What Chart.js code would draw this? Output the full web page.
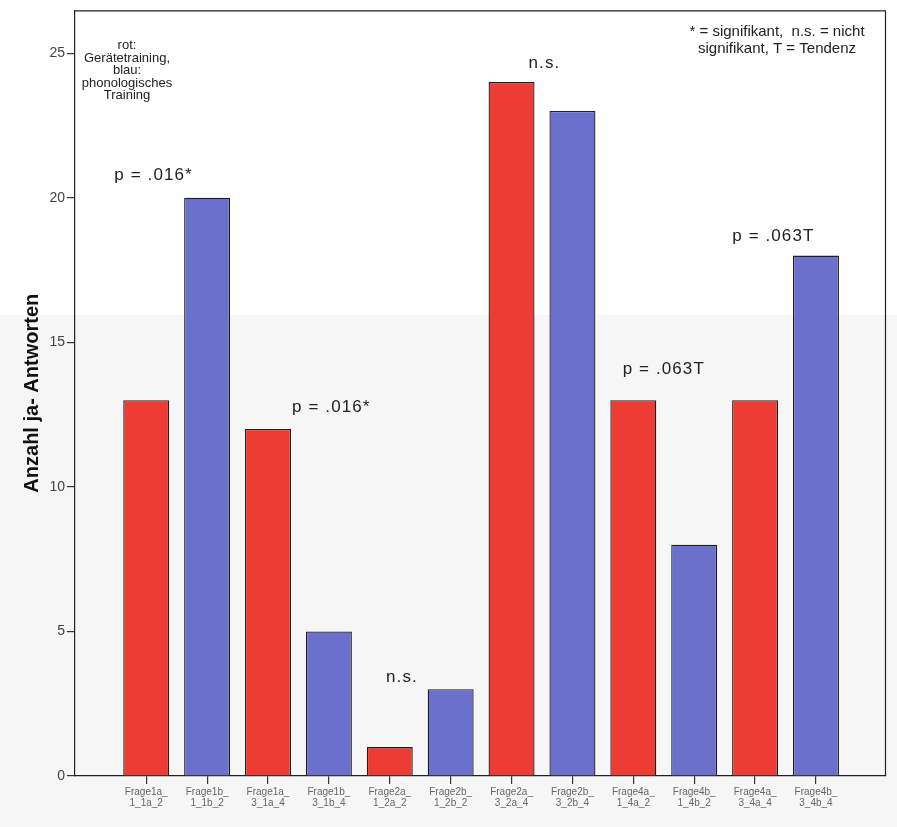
<!DOCTYPE html>
<html>
<head>
<meta charset="utf-8">
<script src="https://cdn.jsdelivr.net/npm/chart.js@4/dist/chart.umd.min.js"></script>
<style>
  html, body { margin: 0; padding: 0; background: #ffffff; }
  canvas { display: block; }
</style>
</head>
<body>
<canvas id="chart" width="897" height="827"></canvas>
<script>
// Question labels along the x axis (two lines each)
const categories = [
  ["Frage1a_", "1_1a_2"], ["Frage1b_", "1_1b_2"],
  ["Frage1a_", "3_1a_4"], ["Frage1b_", "3_1b_4"],
  ["Frage2a_", "1_2a_2"], ["Frage2b_", "1_2b_2"],
  ["Frage2a_", "3_2a_4"], ["Frage2b_", "3_2b_4"],
  ["Frage4a_", "1_4a_2"], ["Frage4b_", "1_4b_2"],
  ["Frage4a_", "3_4a_4"], ["Frage4b_", "3_4b_4"]
];

// Number of "yes" answers per question, alternating red / blue
const geraetetraining = [13, 12, 1, 24, 13, 13];          // rot
const phonologisch    = [20, 5, 3, 23, 8, 18];            // blau
const redIndex  = [0, 2, 4, 6, 8, 10];
const blueIndex = [1, 3, 5, 7, 9, 11];

const yTicks = [0, 5, 10, 15, 20, 25];

// Significance notes above each pair of bars
const noteText = ["p = .016*", "p = .016*", "n.s.", "n.s.", "p = .063T", "p = .063T"];
const noteX    = [0.12, 3.04, 4.2, 6.54, 8.5, 10.3];
const noteY    = [20.6, 12.6, 3.24, 24.5, 13.9, 18.5];

const FONT = "'Liberation Sans', Arial, sans-serif";

const pageBackground = {
  id: 'pageBackground',
  beforeDraw(chart) {
    const ctx = chart.ctx;
    ctx.save();
    ctx.fillStyle = '#ffffff';
    ctx.fillRect(0, 0, chart.width, chart.height);
    ctx.fillStyle = '#f6f6f6';
    ctx.fillRect(0, 315, chart.width, chart.height - 315);
    ctx.restore();
  }
};

const frameAndNotes = {
  id: 'frameAndNotes',
  afterDatasetsDraw(chart) {
    const ctx = chart.ctx;
    const a = chart.chartArea;
    const xs = chart.scales.x, ys = chart.scales.y;
    ctx.save();
    // box around the plot
    ctx.strokeStyle = '#222';
    ctx.lineWidth = 1.2;
    ctx.beginPath();
    ctx.moveTo(a.left, a.top + 0.5);
    ctx.lineTo(a.right - 0.5, a.top + 0.5);
    ctx.lineTo(a.right - 0.5, a.bottom);
    ctx.stroke();

    // p-value notes
    ctx.fillStyle = '#222';
    ctx.font = '17px ' + FONT;
    ctx.textAlign = 'center';
    ctx.textBaseline = 'alphabetic';
    if ('letterSpacing' in ctx) ctx.letterSpacing = '1.1px';
    noteText.forEach((t, i) => {
      ctx.fillText(t, xs.getPixelForValue(noteX[i]), ys.getPixelForValue(noteY[i]));
    });
    if ('letterSpacing' in ctx) ctx.letterSpacing = '0px';

    // colour key, top left
    ctx.font = '13px ' + FONT;
    ctx.textBaseline = 'middle';
    const keyLines = ["rot:", "Gerätetraining,", "blau:", "phonologisches", "Training"];
    keyLines.forEach((t, i) => {
      ctx.fillText(t, a.left + 52, a.top + 35 + i * 12.6);
    });

    // explanation, top right
    ctx.font = '15px ' + FONT;
    ctx.fillText("* = signifikant,  n.s. = nicht", a.right - 109, a.top + 21);
    ctx.fillText("signifikant, T = Tendenz", a.right - 109, a.top + 38);
    ctx.restore();
  }
};

new Chart(document.getElementById('chart'), {
  type: 'bar',
  data: {
    datasets: [
      {
        label: 'Gerätetraining',
        data: redIndex.map((x, i) => ({ x: x, y: geraetetraining[i] })),
        backgroundColor: '#EE3B33',
        borderColor: '#1e1e1e',
        borderWidth: 1.3,
        borderSkipped: 'bottom'
      },
      {
        label: 'phonologisches Training',
        data: blueIndex.map((x, i) => ({ x: x, y: phonologisch[i] })),
        backgroundColor: '#6B70CD',
        borderColor: '#1e1e1e',
        borderWidth: 1.3,
        borderSkipped: 'bottom'
      }
    ]
  },
  options: {
    responsive: false,
    animation: false,
    grouped: false,
    categoryPercentage: 1.0,
    barPercentage: 0.755,
    layout: { padding: { left: 0, top: 8, right: 11, bottom: 0 } },
    plugins: {
      legend: { display: false },
      tooltip: { enabled: false }
    },
    scales: {
      x: {
        type: 'linear',
        offset: false,
        min: -1.17,
        max: 12.15,
        afterBuildTicks(scale) {
          scale.ticks = categories.map((c, i) => ({ value: i }));
        },
        afterFit(scale) { scale.height = 51; },
        border: { display: true, color: '#222', width: 1.2 },
        grid: {
          offset: false,
          drawOnChartArea: false,
          drawTicks: true,
          tickLength: 8,
          color: '#333',
          lineWidth: 1.2
        },
        ticks: {
          autoSkip: false,
          maxRotation: 0,
          padding: 3,
          color: '#666',
          font: { family: FONT, size: 10, lineHeight: 1.1 },
          callback(value) { return categories[value] || ''; }
        }
      },
      y: {
        type: 'linear',
        min: 0,
        max: 26.48,
        afterBuildTicks(scale) {
          scale.ticks = yTicks.map(v => ({ value: v }));
        },
        afterFit(scale) { scale.width = 75; },
        border: { display: true, color: '#222', width: 1.2 },
        grid: {
          drawOnChartArea: false,
          drawTicks: true,
          tickLength: 8,
          color: '#333',
          lineWidth: 1.2
        },
        ticks: {
          padding: 2,
          color: '#444',
          font: { family: FONT, size: 14 }
        },
        title: {
          display: true,
          text: 'Anzahl ja- Antworten',
          color: '#111',
          font: { family: "'Liberation Sans Narrow', 'Liberation Sans', Arial, sans-serif", size: 20, weight: 'bold' },
          padding: { top: 20, bottom: 0 }
        }
      }
    }
  },
  plugins: [pageBackground, frameAndNotes]
});
</script>
</body>
</html>
